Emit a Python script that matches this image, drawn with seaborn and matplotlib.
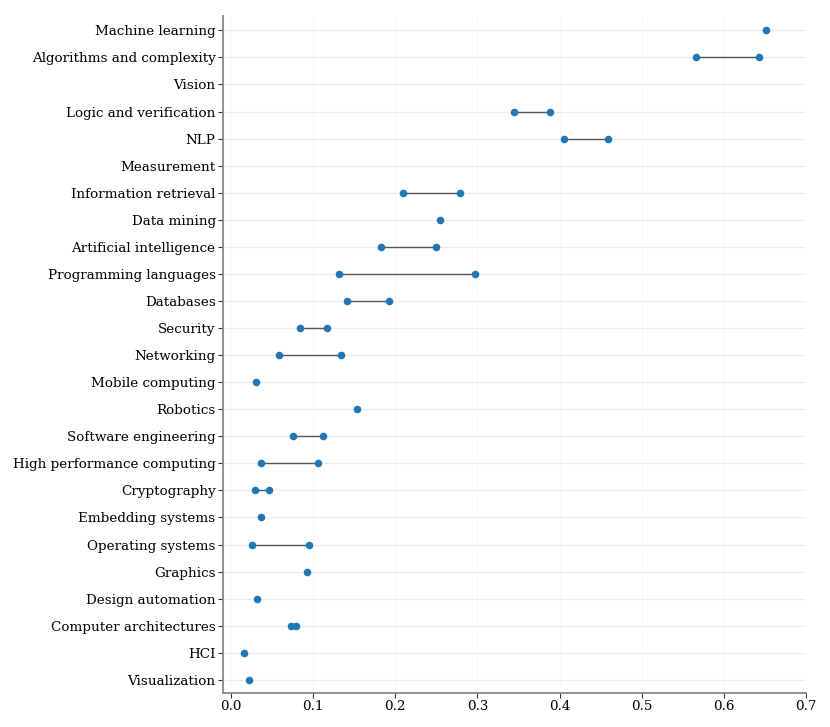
import numpy as np
import pandas as pd
import matplotlib
matplotlib.use("Agg")
import matplotlib.pyplot as plt
import seaborn as sns

categories = [
    "Machine learning", "Algorithms and complexity", "Vision", "Logic and verification",
    "NLP", "Measurement", "Information retrieval", "Data mining", "Artificial intelligence",
    "Programming languages", "Databases", "Security", "Networking", "Mobile computing",
    "Robotics", "Software engineering", "High performance computing", "Cryptography",
    "Embedding systems", "Operating systems", "Graphics", "Design automation",
    "Computer architectures", "HCI", "Visualization",
]
value_a = [0.651, 0.566, np.nan, 0.345, 0.406, np.nan, 0.209, 0.255, 0.183, 0.131,
           0.141, 0.084, 0.058, 0.030, 0.153, 0.076, 0.037, 0.029, 0.037, 0.026,
           0.093, 0.031, 0.073, 0.016, 0.022]
value_b = [np.nan, 0.643, np.nan, 0.388, 0.459, np.nan, 0.279, np.nan, 0.250, 0.297,
           0.192, 0.117, 0.134, np.nan, np.nan, 0.112, 0.106, 0.046, np.nan, 0.095,
           np.nan, np.nan, 0.079, np.nan, np.nan]
x_ticks = [0.0, 0.1, 0.2, 0.3, 0.4, 0.5, 0.6, 0.7]

sns.set_theme(style="white")
plt.rcParams["font.family"] = ["DejaVu Serif"]

cat_type = pd.CategoricalDtype(categories=categories, ordered=True)
long_df = pd.DataFrame({
    "category": pd.Series(categories * 2, dtype=cat_type),
    "value": value_a + value_b,
})
pairs = pd.DataFrame({"category": categories, "a": value_a, "b": value_b}).dropna()

fig = plt.figure(figsize=(8.3, 7.27), dpi=100)
ax = fig.add_axes([0.269, 0.047, 0.702, 0.931])

ax.grid(axis="y", color="#ededed", linewidth=0.9, linestyle="-")
ax.grid(axis="x", color="#ececec", linewidth=0.7, linestyle=":")
ax.set_axisbelow(True)

sns.scatterplot(data=long_df, x="value", y="category", ax=ax, color="#1f77b4",
                s=30, linewidth=0, zorder=3)
ax.hlines(y=pairs["category"], xmin=pairs["a"], xmax=pairs["b"], color="#555555",
          linewidth=1.0, zorder=2)

ax.set_xlim(-0.0095, 0.7)
ax.set_ylim(len(categories) - 0.52, -0.53)
ax.set_xticks(x_ticks)
ax.set_xticklabels([f"{t:.1f}" for t in x_ticks])
ax.set_xlabel("")
ax.set_ylabel("")
ax.tick_params(axis="both", which="major", labelsize=9.7, length=3.5, width=0.8,
               color="#333333", labelcolor="black", pad=2, left=True, bottom=True)
for side in ["top", "right"]:
    ax.spines[side].set_visible(False)
for side in ["left", "bottom"]:
    ax.spines[side].set_color("#888888")
    ax.spines[side].set_linewidth(1.3)

fig.savefig("out.png", dpi=100)
